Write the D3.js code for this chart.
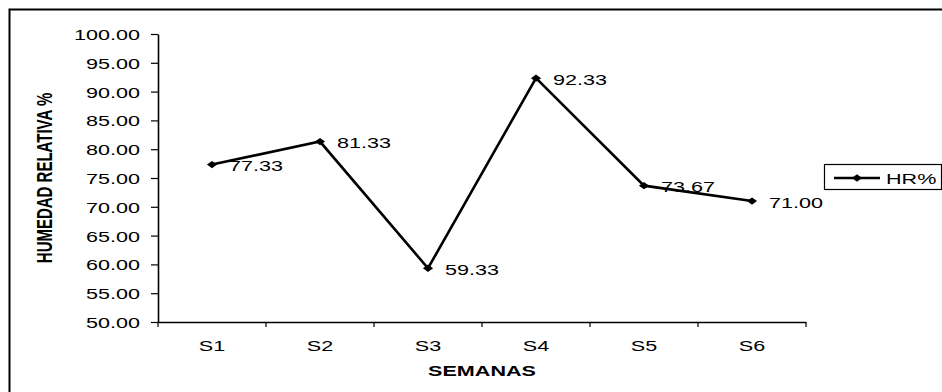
<!DOCTYPE html>
<html>
<head>
<meta charset="utf-8">
<script src="https://cdn.jsdelivr.net/npm/d3@7"></script>
<style>
  body { margin: 0; background: #fff; }
  text { font-family: Arial, "Liberation Sans", sans-serif; fill: #000; }
</style>
</head>
<body>
<svg id="chart" width="942" height="392"></svg>
<script>
// chart data
var semanas = ["S1", "S2", "S3", "S4", "S5", "S6"];
var hr = [77.33, 81.33, 59.33, 92.33, 73.67, 71.00];
var yTicks = [50, 55, 60, 65, 70, 75, 80, 85, 90, 95, 100];
var serieName = "HR%";

var svg = d3.select("#chart"),
  stretch = 1.44,   // the original text is drawn wide
  plotLeft = 158, plotRight = 806, plotTop = 34, plotBottom = 322;

var x = d3.scaleBand().domain(semanas).range([plotLeft, plotRight]).paddingInner(0).paddingOuter(0);
var y = d3.scaleLinear().domain([50, 100]).range([plotBottom, plotTop]);

// outer frame
svg.append("rect")
  .attr("x", 9.5).attr("y", 9.5)
  .attr("width", 945).attr("height", 395)
  .attr("fill", "none").attr("stroke", "#000").attr("stroke-width", 2);

// y axis
var yAxis = svg.append("g")
  .attr("transform", "translate(" + plotLeft + ",0)")
  .call(d3.axisLeft(y).tickValues(yTicks).tickFormat(d3.format(".2f")).tickSize(7).tickSizeOuter(0));
yAxis.select(".domain").attr("stroke", "#000").attr("stroke-width", 1.6);
yAxis.selectAll(".tick line").attr("stroke", "#000").attr("stroke-width", 1.2);
yAxis.selectAll(".tick text")
  .attr("x", -18 / stretch)
  .attr("dy", "0.36em")
  .attr("font-size", 15)
  .attr("font-family", "Arial, 'Liberation Sans', sans-serif")
  .attr("transform", "scale(" + stretch + ",1)");

// x axis: labels at band centres, ticks at band edges
var xAxis = svg.append("g")
  .attr("transform", "translate(0," + plotBottom + ")")
  .call(d3.axisBottom(x).tickSize(0).tickPadding(0).tickSizeOuter(0));
xAxis.select(".domain").attr("stroke", "#000").attr("stroke-width", 1.6);
xAxis.selectAll(".tick text")
  .attr("y", 0)
  .attr("dy", 0)
  .attr("font-size", 15)
  .attr("font-family", "Arial, 'Liberation Sans', sans-serif")
  .attr("transform", "translate(0,29) scale(" + stretch + ",1)");

xAxis.selectAll(".edge")
  .data(d3.range(semanas.length + 1))
  .enter().append("line")
  .attr("class", "edge")
  .attr("x1", i => plotLeft + i * x.step())
  .attr("x2", i => plotLeft + i * x.step())
  .attr("y1", 0).attr("y2", 5)
  .attr("stroke", "#000").attr("stroke-width", 1.2);

// axis titles
svg.append("text")
  .attr("transform", "translate(" + ((plotLeft + plotRight) / 2) + ",376) scale(" + stretch + ",1)")
  .attr("text-anchor", "middle")
  .attr("font-size", 15).attr("font-weight", "bold")
  .text("SEMANAS");

svg.append("text")
  .attr("transform", "translate(52," + ((plotTop + plotBottom) / 2) + ") scale(" + stretch + ",1) rotate(-90)")
  .attr("text-anchor", "middle")
  .attr("font-size", 15).attr("font-weight", "bold")
  .text("HUMEDAD RELATIVA %");

// the line
var pts = semanas.map((s, i) => ({ name: s, value: hr[i] }));
var line = d3.line()
  .x(d => x(d.name) + x.bandwidth() / 2)
  .y(d => y(d.value));

svg.append("path")
  .datum(pts)
  .attr("d", line)
  .attr("fill", "none")
  .attr("stroke", "#000")
  .attr("stroke-width", 2.6)
  .attr("stroke-linejoin", "miter");

var diamond = d3.symbol().type(d3.symbolDiamond2).size(42);

svg.selectAll(".marker")
  .data(pts)
  .enter().append("path")
  .attr("class", "marker")
  .attr("d", diamond)
  .attr("transform", d => "translate(" + (x(d.name) + x.bandwidth() / 2) + "," + y(d.value) + ") scale(1.25,0.9)")
  .attr("fill", "#000");

// data labels
svg.selectAll(".lbl")
  .data(pts)
  .enter().append("text")
  .attr("class", "lbl")
  .attr("transform", d => "translate(" + (x(d.name) + x.bandwidth() / 2 + 17) + "," + (y(d.value) + 6.5) + ") scale(" + stretch + ",1)")
  .attr("font-size", 15)
  .text(d => d3.format(".2f")(d.value));

// legend
var lg = svg.append("g").attr("transform", "translate(824,164)");
lg.append("rect")
  .attr("x", 0.5).attr("y", 0.5)
  .attr("width", 117).attr("height", 25)
  .attr("fill", "#fff").attr("stroke", "#000").attr("stroke-width", 1.2);
lg.append("line")
  .attr("x1", 10).attr("x2", 56)
  .attr("y1", 14).attr("y2", 14)
  .attr("stroke", "#000").attr("stroke-width", 2.6);
lg.append("path")
  .attr("d", diamond)
  .attr("transform", "translate(33,14) scale(1.25,0.9)")
  .attr("fill", "#000");
lg.append("text")
  .attr("transform", "translate(62,20) scale(" + stretch + ",1)")
  .attr("font-size", 15)
  .text(serieName);
</script>
</body>
</html>
